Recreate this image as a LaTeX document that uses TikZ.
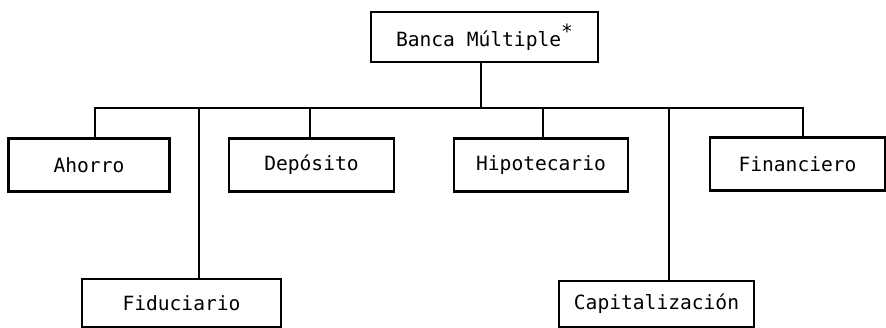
\documentclass[tikz,border=0pt]{standalone}
\usepackage{fontspec}
\newfontfamily\typewr{DejaVu Sans Mono}
\tikzset{
    obox/.style={draw,rectangle,line width=2.8pt,inner sep=0pt,
        font=\typewr\fontsize{19.6}{23}\selectfont},
    link/.style={draw,line width=2.8pt},
    chart/.style={
        x=1pt,y=-1pt,
        every node/.style=obox,
        every edge/.style=link,
    }
}
\begin{document}
\begin{tikzpicture}[chart]
    \useasboundingbox (0,0) rectangle (886,327);
    % boxes
    \node[minimum width=227pt,minimum height=50pt] (banca) at (484.5,37) {Banca Múltiple\raisebox{8pt}{*}};
    \node[minimum width=161pt,minimum height=53pt] (ahorro) at (89,165) {Ahorro};
    \node[minimum width=165pt,minimum height=53pt] (dep) at (311.5,165) {Depósito};
    \node[minimum width=174pt,minimum height=53pt] (hipo) at (541,165) {Hipotecario};
    \node[minimum width=175pt,minimum height=53pt] (finan) at (797.5,164) {Financiero};
    \node[minimum width=199pt,minimum height=48pt] (fidu) at (181.5,303) {Fiduciario\hspace{26pt}};
    \node[minimum width=195pt,minimum height=46pt] (capit) at (656.5,304) {Capitalización};
    % bus
    \coordinate (top) at (481,108);
    \coordinate (s1) at (95,108);
    \coordinate (s2) at (199,108);
    \coordinate (s3) at (310,108);
    \coordinate (s4) at (543,108);
    \coordinate (s5) at (669,108);
    \coordinate (s6) at (803,108);
    \draw[link] (ahorro.north -| s1) -- (s1) -- (s6) -- (finan.north -| s6);
    \path
        (banca.south -| top) edge (top)
        (s2) edge (fidu.north -| s2)
        (s3) edge (dep.north -| s3)
        (s4) edge (hipo.north -| s4)
        (s5) edge (capit.north -| s5)
    ;
\end{tikzpicture}
\end{document}
